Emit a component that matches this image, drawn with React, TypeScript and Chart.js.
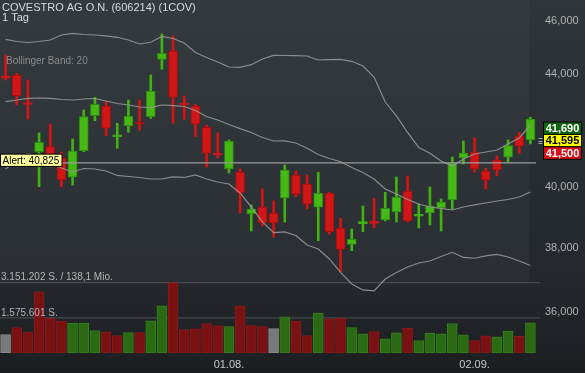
import React, { useEffect, useRef } from 'react';
import { Chart, registerables } from 'chart.js';

Chart.register(...registerables);

const FONT = '"Liberation Sans", Arial, sans-serif';

const title = 'COVESTRO AG O.N. (606214) (1COV)';
const period = '1 Tag';
const bandLabel = 'Bollinger Band: 20';
const turnoverLabel = '138,1 Mio.';

const dates = [
  '04.07.', '05.07.', '08.07.', '09.07.', '10.07.', '11.07.', '12.07.', '15.07.', '16.07.', '17.07.',
  '18.07.', '19.07.', '22.07.', '23.07.', '24.07.', '25.07.', '26.07.', '29.07.', '30.07.', '31.07.',
  '01.08.', '02.08.', '05.08.', '06.08.', '07.08.', '08.08.', '09.08.', '12.08.', '13.08.', '14.08.',
  '15.08.', '16.08.', '19.08.', '20.08.', '21.08.', '22.08.', '23.08.', '26.08.', '27.08.', '28.08.',
  '29.08.', '30.08.', '02.09.', '03.09.', '04.09.', '05.09.', '06.09.', '09.09.',
];

const opens = [
  43.850, 43.957, 42.895, 41.210, 41.384, 40.992, 40.332, 41.244, 42.477, 42.825,
  41.725, 42.111, 42.228, 42.442, 44.541, 44.853, 42.870, 42.825, 42.065, 41.105,
  40.614, 40.512, 39.106, 39.336, 39.138, 39.635, 40.410, 40.105, 39.326, 39.792,
  38.638, 38.120, 38.790, 38.805, 38.909, 39.171, 39.869, 39.030, 39.138, 39.303,
  39.568, 40.992, 41.199, 40.546, 40.923, 41.016, 41.758, 41.617,
];
const highs = [
  44.703, 44.020, 43.772, 41.864, 42.182, 41.199, 41.652, 42.681, 43.140, 42.980,
  42.207, 43.041, 43.041, 43.957, 45.500, 45.423, 43.187, 42.886, 42.146, 41.864,
  41.617, 40.614, 39.403, 39.936, 39.535, 40.751, 40.546, 40.410, 40.502, 39.826,
  38.965, 38.615, 39.369, 39.624, 39.826, 40.342, 40.376, 39.436, 40.004, 39.602,
  41.026, 41.582, 41.687, 40.648, 41.061, 41.617, 41.888, 42.420,
];
const lows = [
  43.772, 42.861, 42.359, 40.014, 40.751, 40.014, 40.071, 41.210, 42.299, 41.769,
  41.328, 41.888, 41.969, 42.384, 44.168, 42.207, 42.349, 41.733, 40.683, 40.992,
  40.478, 39.138, 38.550, 38.713, 38.356, 38.843, 39.679, 39.270, 38.236, 38.443,
  37.252, 37.916, 38.527, 38.658, 38.876, 38.843, 38.843, 38.648, 38.746, 38.550,
  39.270, 40.785, 40.512, 39.936, 40.376, 40.864, 41.154, 41.478,
];
const closes = [
  43.835, 43.198, 42.880, 41.537, 40.923, 40.240, 41.234, 42.442, 42.886, 42.030,
  41.733, 42.467, 42.171, 43.369, 44.767, 43.140, 42.860, 42.171, 41.154, 41.095,
  41.582, 39.802, 39.270, 38.811, 38.811, 40.580, 39.759, 39.426, 39.792, 38.527,
  37.960, 38.281, 38.801, 38.795, 39.293, 39.669, 38.876, 39.040, 39.369, 39.502,
  40.820, 41.165, 40.614, 40.240, 40.580, 41.418, 41.400, 42.359,
];
const volumes = [
  828400, 1143200, 932100, 2746300, 1549000, 1427500, 1337200, 1336800, 1008400, 945100,
  783200, 918600, 917900, 1441300, 2116400, 3151202, 1053100, 1080400, 1323500, 1215200,
  1188300, 2116000, 1233400, 1188100, 1098200, 1616300, 1427100, 783300, 1774200, 1531400,
  1562100, 1143100, 855200, 963400, 630100, 900300, 1112400, 558200, 887300, 855100,
  1323200, 810400, 558100, 765200, 720300, 977100, 752400, 1351300,
];
const bbUpper = [
  45.297, 45.213, 45.175, 45.213, 45.270, 45.461, 45.526, 45.480, 45.461, 45.431,
  45.374, 45.270, 45.118, 45.183, 45.404, 45.328, 45.156, 44.797, 44.609, 44.440,
  44.254, 44.243, 44.339, 44.552, 44.691, 44.684, 44.676, 44.665, 44.515, 44.530,
  44.541, 44.466, 44.291, 43.883, 42.969, 42.467, 41.881, 41.356, 41.154, 40.888,
  40.717, 40.957, 41.130, 41.199, 41.269, 41.478, 41.688, 42.146,
];
const bbMiddle = [
  42.980, 43.041, 43.103, 43.114, 43.103, 43.059, 43.041, 43.078, 43.096, 43.005,
  42.915, 42.861, 42.789, 42.764, 42.861, 42.836, 42.807, 42.663, 42.449, 42.324,
  42.164, 42.015, 41.881, 41.705, 41.582, 41.589, 41.512, 41.331, 41.113, 40.975,
  40.864, 40.666, 40.495, 40.274, 39.936, 39.769, 39.585, 39.436, 39.336, 39.287,
  39.237, 39.336, 39.403, 39.469, 39.535, 39.585, 39.669, 39.836,
];
const bbLower = [
  40.614, 40.923, 41.130, 41.061, 40.888, 40.648, 40.512, 40.631, 40.614, 40.546,
  40.393, 40.359, 40.325, 40.274, 40.274, 40.342, 40.325, 40.410, 40.274, 40.172,
  40.105, 39.802, 39.336, 38.843, 38.495, 38.518, 38.404, 38.098, 37.970, 37.652,
  37.227, 36.868, 36.683, 36.652, 37.024, 37.227, 37.400, 37.526, 37.589, 37.732,
  37.865, 37.700, 37.675, 37.748, 37.795, 37.716, 37.589, 37.447,
];

const priceTicks = [36, 38, 40, 42, 44, 46];
const priceMin = 34.788;
const priceMax = 46.82;
const alertLevel = 40.825;
const quoteAsk = 41.69;
const quoteLast = 41.595;
const quoteBid = 41.5;

const fmtPrice = (v: number) => v.toFixed(3).replace('.', ',');
const fmtShares = (v: number) => Math.round(v).toLocaleString('de-DE');

const RED_BODY = '#d01616';
const RED_EDGE = '#a80e0e';
const GREEN_BODY = '#45b816';
const GREEN_EDGE = '#2e8a10';
const RED_WICK = '#d41414';
const GREEN_WICK = '#42b212';
const VOL_RED = '#7a1113';
const VOL_RED_EDGE = '#8c1a1c';
const VOL_GREEN = '#2a6a13';
const VOL_GREEN_EDGE = '#37801d';
const VOL_GRAY = '#777a7c';
const VOL_GRAY_EDGE = '#8a8d8f';
const BAND = 'rgba(150,150,150,0.9)';

export default function App() {
  const ref = useRef<HTMLCanvasElement>(null);

  useEffect(() => {
    const canvas = ref.current;
    if (!canvas) return;
    const volMax = Math.max(...volumes);
    const isUp = (i: number) => closes[i] >= opens[i];
    const isDoji = (i: number) => Math.abs(closes[i] - opens[i]) < 0.02;
    const volKind = (i: number) =>
      i === 0 || closes[i] === closes[i - 1] ? 0 : closes[i] > closes[i - 1] ? 1 : -1;

    const decor = {
      id: 'decor',
      beforeDraw(chart: any) {
        const { ctx, width, height, chartArea } = chart;
        const vs = chart.scales.vol;
        const panelBottom = vs.getPixelForValue(volMax);
        ctx.save();
        const g = ctx.createLinearGradient(0, 0, 0, height);
        g.addColorStop(0, '#2f3539');
        g.addColorStop(0.75, '#24282c');
        g.addColorStop(1, '#1b1e21');
        ctx.fillStyle = g;
        ctx.fillRect(0, 0, width, height);
        const pg = ctx.createLinearGradient(0, 0, 0, panelBottom);
        pg.addColorStop(0, '#343a3e');
        pg.addColorStop(1, '#2a2e32');
        ctx.fillStyle = pg;
        ctx.fillRect(0, 0, chartArea.right - 7, panelBottom);
        ctx.restore();
      },
      beforeDatasetsDraw(chart: any) {
        const { ctx, chartArea } = chart;
        const vs = chart.scales.vol;
        ctx.save();
        ctx.strokeStyle = '#454a4e';
        ctx.lineWidth = 1.3;
        [volMax, volMax / 2].forEach((v) => {
          const y = vs.getPixelForValue(v);
          ctx.beginPath();
          ctx.moveTo(0, y);
          ctx.lineTo(chartArea.right + 4, y);
          ctx.stroke();
        });
        ctx.restore();
      },
      afterDatasetsDraw(chart: any) {
        const { ctx, chartArea } = chart;
        const ys = chart.scales.y;
        const vs = chart.scales.vol;
        ctx.save();
        // volume labels
        ctx.fillStyle = '#b4b4b4';
        ctx.font = '10px ' + FONT;
        ctx.textBaseline = 'alphabetic';
        ctx.textAlign = 'left';
        ctx.fillText(fmtShares(volMax) + ' S. / ' + turnoverLabel, 1, vs.getPixelForValue(volMax) - 2.3);
        ctx.fillText(fmtShares(volMax / 2) + ' S.', 1, vs.getPixelForValue(volMax / 2) - 2);

        // alert line
        const ay = ys.getPixelForValue(alertLevel);
        ctx.strokeStyle = '#9c9c9c';
        ctx.lineWidth = 1.2;
        ctx.beginPath();
        ctx.moveTo(0, ay);
        ctx.lineTo(chartArea.right, ay);
        ctx.stroke();
        ctx.fillStyle = '#ffffa0';
        ctx.fillRect(0.5, ay - 8.7, 61.5, 12.3);
        ctx.strokeStyle = '#000';
        ctx.lineWidth = 1;
        ctx.strokeRect(0.5, ay - 8.7, 61.5, 12.3);
        ctx.fillStyle = '#000';
        ctx.font = '10px ' + FONT;
        ctx.textAlign = 'left';
        ctx.textBaseline = 'alphabetic';
        ctx.fillText('Alert: ' + fmtPrice(alertLevel), 2.5, ay + 0.8);

        // titles
        ctx.fillStyle = '#dadada';
        ctx.font = '11px ' + FONT;
        ctx.fillText(title, 2, 10.7);
        ctx.fillText(period, 2, 21.3);
        ctx.fillStyle = '#8c8c8c';
        ctx.font = '10px ' + FONT;
        ctx.fillText(bandLabel, 6, 64.3);
        ctx.restore();
      },
      afterDraw(chart: any) {
        const { ctx } = chart;
        const ys = chart.scales.y;
        const yq = ys.getPixelForValue(quoteLast);
        const h = 12.4;
        const x0 = 543.5;
        const w = 38;
        const boxes: [number, string, string][] = [
          [quoteAsk, '#0f640f', '#ffffff'],
          [quoteLast, '#ffff00', '#000000'],
          [quoteBid, '#dc0a14', '#ffffff'],
        ];
        ctx.save();
        boxes.forEach(([v, bg, fg], k) => {
          const top = yq - h * 1.5 + k * h;
          ctx.fillStyle = bg;
          ctx.fillRect(x0, top, w, h);
          ctx.strokeStyle = '#000';
          ctx.lineWidth = 1;
          ctx.strokeRect(x0, top, w, h);
          ctx.fillStyle = fg;
          ctx.font = 'bold 11px ' + FONT;
          ctx.textAlign = 'center';
          ctx.textBaseline = 'middle';
          ctx.fillText(fmtPrice(v), x0 + w / 2, top + h / 2 + 0.5);
        });
        ctx.strokeStyle = '#a8a8a8';
        ctx.lineWidth = 1;
        [-2.5, 0, 2.5].forEach((d) => {
          ctx.beginPath();
          ctx.moveTo(538.5, Math.round(yq + d) + 0.5);
          ctx.lineTo(542.5, Math.round(yq + d) + 0.5);
          ctx.stroke();
        });
        ctx.restore();
      },
    };

    const chart = new Chart(canvas, {
      type: 'bar',
      data: {
        labels: dates,
        datasets: [
          {
            type: 'line', label: 'BB oben', data: bbUpper, yAxisID: 'y',
            borderColor: BAND, borderWidth: 1.2, pointRadius: 0, tension: 0, order: 0,
          },
          {
            type: 'line', label: 'BB Mitte', data: bbMiddle, yAxisID: 'y',
            borderColor: BAND, borderWidth: 1.2, pointRadius: 0, tension: 0, order: 0,
          },
          {
            type: 'line', label: 'BB unten', data: bbLower, yAxisID: 'y',
            borderColor: BAND, borderWidth: 1.2, pointRadius: 0, tension: 0, order: 0,
          },
          {
            type: 'bar', label: 'Docht', yAxisID: 'y',
            data: highs.map((hv, i) => [lows[i], hv]),
            backgroundColor: (c: any) => (isUp(c.dataIndex) ? GREEN_WICK : RED_WICK),
            borderWidth: 0, barThickness: 2, grouped: false, order: 2,
          },
          {
            type: 'bar', label: 'Kerze', yAxisID: 'y',
            data: opens.map((o, i) => [o, closes[i]]),
            backgroundColor: (c: any) => (isUp(c.dataIndex) ? GREEN_BODY : RED_BODY),
            borderColor: (c: any) => {
              const i = c.dataIndex;
              if (isDoji(i)) return isUp(i) ? GREEN_WICK : RED_WICK;
              return isUp(i) ? GREEN_EDGE : RED_EDGE;
            },
            borderWidth: 1, borderSkipped: false, barThickness: 9, minBarLength: 2,
            grouped: false, order: 1,
          },
          {
            type: 'bar', label: 'Volumen', yAxisID: 'vol', data: volumes,
            backgroundColor: (c: any) => {
              const k = volKind(c.dataIndex);
              return k === 0 ? VOL_GRAY : k > 0 ? VOL_GREEN : VOL_RED;
            },
            borderColor: (c: any) => {
              const k = volKind(c.dataIndex);
              return k === 0 ? VOL_GRAY_EDGE : k > 0 ? VOL_GREEN_EDGE : VOL_RED_EDGE;
            },
            borderWidth: 1, borderSkipped: false, barThickness: 10, grouped: false, order: 3,
          },
        ] as any,
      },
      options: {
        responsive: false,
        animation: false,
        devicePixelRatio: 1,
        events: [],
        layout: { padding: 0 },
        plugins: { legend: { display: false }, tooltip: { enabled: false } },
        scales: {
          x: {
            type: 'category',
            offset: true,
            grid: { display: false, drawTicks: false },
            border: { display: false },
            ticks: {
              autoSkip: false,
              maxRotation: 0,
              padding: 5,
              color: '#c8c8c8',
              font: { size: 11, family: FONT },
              callback: (_v: any, i: number) =>
                i > 0 && dates[i].slice(3) !== dates[i - 1].slice(3) ? dates[i] : '',
            },
            afterFit: (s: any) => {
              s.height = 20;
              s.paddingLeft = 0;
              s.paddingRight = 0;
            },
          },
          y: {
            type: 'logarithmic',
            position: 'right',
            min: priceMin,
            max: priceMax,
            grid: { display: false, drawTicks: false },
            border: { display: false },
            ticks: {
              autoSkip: false,
              padding: 9,
              color: '#b0b0b0',
              font: { size: 11, family: FONT },
              callback: (v: any) => fmtPrice(Number(v)),
            },
            afterBuildTicks: (s: any) => {
              s.ticks = priceTicks.map((v) => ({ value: v }));
            },
            afterFit: (s: any) => {
              s.width = 49;
              s.paddingTop = 0;
              s.paddingBottom = 0;
            },
          },
          vol: {
            type: 'linear',
            display: false,
            min: 0,
            max: volMax * 5.02,
          },
        },
      } as any,
      plugins: [decor],
    });

    return () => chart.destroy();
  }, []);

  return (
    <div style={{ position: 'fixed', left: 0, top: 0, width: 585, height: 373 }}>
      <canvas ref={ref} width={585} height={373} style={{ display: 'block', width: 585, height: 373 }} />
    </div>
  );
}
